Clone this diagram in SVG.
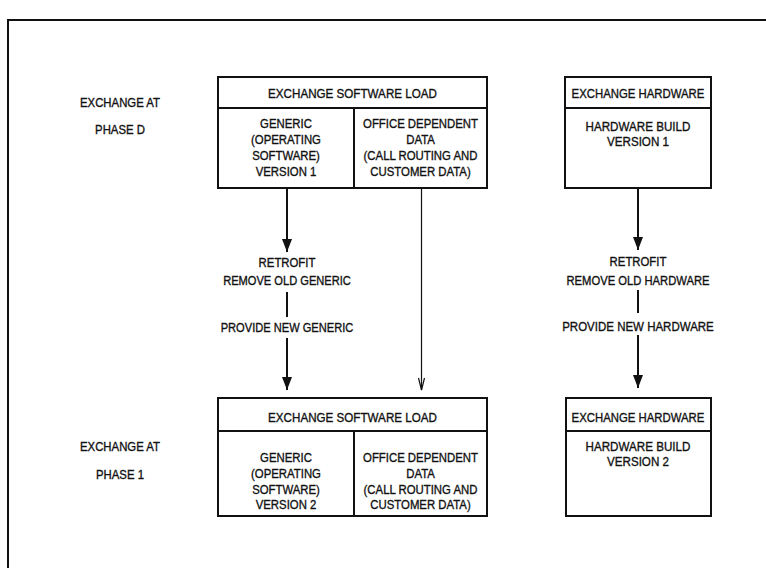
<svg xmlns="http://www.w3.org/2000/svg" width="766" height="568" viewBox="0 0 766 568">
  <style>
    .box { fill: #fff; stroke: #111; stroke-width: 2; }
    .rule { stroke: #111; stroke-width: 2; fill: none; }
    .thin { stroke: #111; stroke-width: 1.2; fill: none; }
    text { font-family: "Liberation Sans", Arial, sans-serif; font-size: 13px; fill: #111; stroke: #111; stroke-width: 0.35; text-anchor: middle; }
  </style>
  <defs>
    <!-- filled arrowhead, drawn along +x so orient="auto" follows the line -->
    <marker id="head" markerUnits="userSpaceOnUse" markerWidth="14" markerHeight="10" refX="13" refY="5" orient="auto" viewBox="0 0 14 10">
      <path d="M0,0 L13,5 L0,10 Z" fill="#111"/>
    </marker>
  </defs>
  <rect width="766" height="568" fill="#fff"/>

  <!-- page frame -->
  <g id="frame">
    <path class="rule" d="M8,568 V20 H766"/>
  </g>

  <!-- row labels -->
  <g id="label-phase-d">
    <text transform="translate(120,106.5) scale(0.875,1)">EXCHANGE AT</text>
    <text transform="translate(120,133.5) scale(0.875,1)">PHASE D</text>
  </g>
  <g id="label-phase-1">
    <text transform="translate(120,450.5) scale(0.875,1)">EXCHANGE AT</text>
    <text transform="translate(120,478.5) scale(0.875,1)">PHASE 1</text>
  </g>

  <!-- phase D software load -->
  <g id="software-load-d">
    <rect class="box" x="218" y="77" width="269" height="111"/>
    <line class="rule" x1="218" y1="108" x2="487" y2="108"/>
    <line class="rule" x1="354" y1="108" x2="354" y2="188"/>
    <text transform="translate(352.5,98) scale(0.895,1)">EXCHANGE SOFTWARE LOAD</text>
    <text transform="translate(286,127.5) scale(0.875,1)">GENERIC</text>
    <text transform="translate(286,143.5) scale(0.875,1)">(OPERATING</text>
    <text transform="translate(286,159.5) scale(0.875,1)">SOFTWARE)</text>
    <text transform="translate(286,175.5) scale(0.875,1)">VERSION 1</text>
    <text transform="translate(420.5,127.5) scale(0.875,1)">OFFICE DEPENDENT</text>
    <text transform="translate(420.5,143.5) scale(0.875,1)">DATA</text>
    <text transform="translate(420.5,159.5) scale(0.875,1)">(CALL ROUTING AND</text>
    <text transform="translate(420.5,175.5) scale(0.875,1)">CUSTOMER DATA)</text>
  </g>

  <!-- phase D hardware -->
  <g id="hardware-d">
    <rect class="box" x="565" y="77" width="146" height="111"/>
    <line class="rule" x1="565" y1="108" x2="711" y2="108"/>
    <text transform="translate(638,98) scale(0.875,1)">EXCHANGE HARDWARE</text>
    <text transform="translate(638,131) scale(0.895,1)">HARDWARE BUILD</text>
    <text transform="translate(638,146) scale(0.895,1)">VERSION 1</text>
  </g>

  <!-- phase 1 software load -->
  <g id="software-load-1">
    <rect class="box" x="218" y="398" width="269" height="118"/>
    <line class="rule" x1="218" y1="431" x2="487" y2="431"/>
    <line class="rule" x1="354" y1="431" x2="354" y2="516"/>
    <text transform="translate(352.5,422) scale(0.895,1)">EXCHANGE SOFTWARE LOAD</text>
    <text transform="translate(286,462) scale(0.875,1)">GENERIC</text>
    <text transform="translate(286,478) scale(0.875,1)">(OPERATING</text>
    <text transform="translate(286,493.5) scale(0.875,1)">SOFTWARE)</text>
    <text transform="translate(286,509) scale(0.875,1)">VERSION 2</text>
    <text transform="translate(420.5,462) scale(0.875,1)">OFFICE DEPENDENT</text>
    <text transform="translate(420.5,478) scale(0.875,1)">DATA</text>
    <text transform="translate(420.5,493.5) scale(0.875,1)">(CALL ROUTING AND</text>
    <text transform="translate(420.5,509) scale(0.875,1)">CUSTOMER DATA)</text>
  </g>

  <!-- phase 1 hardware -->
  <g id="hardware-1">
    <rect class="box" x="566" y="398" width="145" height="118"/>
    <line class="rule" x1="566" y1="431" x2="711" y2="431"/>
    <text transform="translate(638,421.5) scale(0.875,1)">EXCHANGE HARDWARE</text>
    <text transform="translate(638,451) scale(0.895,1)">HARDWARE BUILD</text>
    <text transform="translate(638,466) scale(0.895,1)">VERSION 2</text>
  </g>

  <!-- step labels -->
  <g id="generic-steps">
    <text transform="translate(287,267) scale(0.875,1)">RETROFIT</text>
    <text transform="translate(287,285) scale(0.855,1)">REMOVE OLD GENERIC</text>
    <text transform="translate(287,332) scale(0.855,1)">PROVIDE NEW GENERIC</text>
  </g>
  <g id="hardware-steps">
    <text transform="translate(638,266) scale(0.875,1)">RETROFIT</text>
    <text transform="translate(638,285) scale(0.865,1)">REMOVE OLD HARDWARE</text>
    <text transform="translate(638,331) scale(0.885,1)">PROVIDE NEW HARDWARE</text>
  </g>

  <!-- connectors -->
  <g id="connectors">
    <line class="rule" x1="287" y1="188" x2="287" y2="252" marker-end="url(#head)"/>
    <line class="rule" x1="287" y1="292" x2="287" y2="317"/>
    <line class="rule" x1="287" y1="338" x2="287" y2="390" marker-end="url(#head)"/>
    <line class="thin" x1="421.5" y1="188" x2="421.5" y2="390"/>
    <path class="thin" d="M418.5,378 L421.5,390 L424.5,378"/>
    <line class="rule" x1="638" y1="188" x2="638" y2="250" marker-end="url(#head)"/>
    <line class="rule" x1="638" y1="290" x2="638" y2="313"/>
    <line class="rule" x1="638" y1="335" x2="638" y2="388" marker-end="url(#head)"/>
  </g>
</svg>
